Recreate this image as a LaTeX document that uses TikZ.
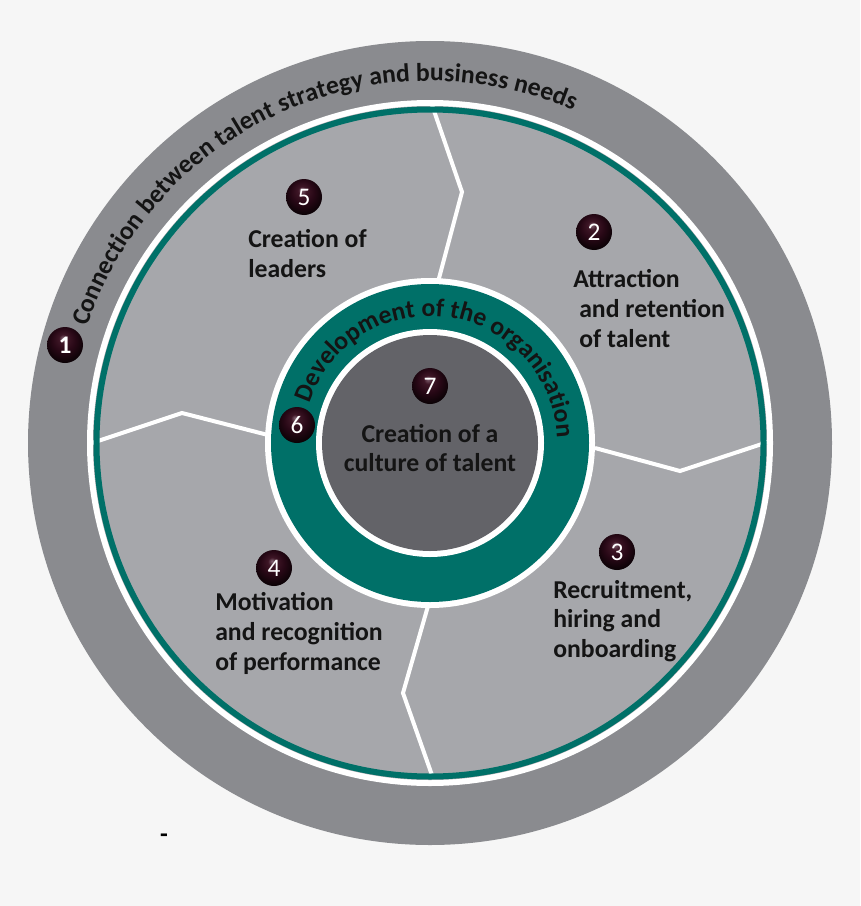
\documentclass[tikz,border=0pt]{standalone}
\usepackage{fontspec}
\setmainfont{Carlito}
\usetikzlibrary{decorations.text}
\definecolor{bgc}{RGB}{246,246,246}
\definecolor{bandc}{RGB}{138,139,143}
\definecolor{lightc}{RGB}{166,167,171}
\definecolor{tealc}{RGB}{0,112,104}
\definecolor{darkc}{RGB}{99,99,104}
\definecolor{txtc}{RGB}{20,20,20}
\definecolor{ballhi}{RGB}{130,100,115}
\definecolor{ballmid}{RGB}{62,22,38}
\definecolor{ballc}{RGB}{40,8,22}
\definecolor{balledge}{RGB}{12,2,6}
\pgfdeclareradialshading{myball}{\pgfpoint{-3bp}{10bp}}{color(0bp)=(ballhi); color(6bp)=(ballmid); color(16bp)=(ballc); color(28bp)=(balledge); color(50bp)=(balledge)}
\begin{document}
\begin{tikzpicture}[x=0.75pt,y=-0.75pt,
  lbl/.style={anchor=base west, inner sep=0pt, font=\fontsize{19.3}{23}\selectfont\bfseries, text=txtc},
  ballst/.style={circle, minimum size=27pt, inner sep=0pt, shading=myball, text=white, font=\fontsize{19}{19}\selectfont},
  divider/.style={white, line width=3pt, line join=miter}]
\useasboundingbox[fill=bgc] (0,0) rectangle (860,906);
\coordinate (c) at (430,443);
% outer band
\fill[bandc] (c) circle (402);
\fill[white] (c) circle (343);
\fill[lightc] (c) circle (337);
% dividers
\draw[divider] (432,105) -- (462,192) -- (438,282);
\draw[divider] (595,448) -- (680,471) -- (768,442);
\draw[divider] (428,606) -- (403,693) -- (433,778);
\draw[divider] (92,443) -- (182,413) -- (268,435);
\draw[tealc, line width=4.5pt] (c) circle (333.5);
% middle ring
\fill[white] (c) circle (165);
\fill[tealc] (c) circle (159);
\fill[white] (c) circle (114);
\fill[darkc] (c) circle (108);
% curved texts
\path[decorate, decoration={text along path, text align=center,
  text={|\fontsize{19.3}{23}\selectfont\bfseries\color{txtc}|Connection between talent strategy and business needs}}]
  (c) ++(-200:362) arc[start angle=-200, end angle=-28, radius=362];
\path[decorate, decoration={text along path, text align=center,
  text={|\fontsize{19.3}{23}\selectfont\bfseries\color{txtc}|Development of the organisation}}]
  (c) ++(-172:127) arc[start angle=-172, end angle=8, radius=127];
% balls
\node[ballst] (b1) at (65,345) {\bfseries 1};
\node[ballst] (b2) at (594,232) {2};
\node[ballst] (b3) at (617,552) {3};
\node[ballst] (b4) at (274,568) {4};
\node[ballst] (b5) at (304,197) {5};
\node[ballst] (b6) at (297,425) {6};
\node[ballst] (b7) at (430,386) {7};
% labels
\node[lbl] (t5a) at (248,247) {Creation of};
\node[lbl] (t5b) at (248,277) {leaders};
\node[lbl] (t2a) at (573,287) {Attraction};
\node[lbl] (t2b) at (579,317) {and retention};
\node[lbl] (t2c) at (579,347) {of talent};
\node[lbl] (t3a) at (553,598) {Recruitment,};
\node[lbl] (t3b) at (553,627) {hiring and};
\node[lbl] (t3c) at (553,657) {onboarding};
\node[lbl] (t4a) at (215,610) {Motivation};
\node[lbl] (t4b) at (215,640) {and recognition};
\node[lbl] (t4c) at (215,670) {of performance};
\node[lbl, anchor=base] (t7a) at (430,442) {Creation of a};
\node[lbl, anchor=base] (t7b) at (430,471) {culture of talent};
\node[inner sep=0pt, font=\fontsize{19}{19}\selectfont\bfseries, text=black] (dash) at (164,838) {-};
\end{tikzpicture}
\end{document}
